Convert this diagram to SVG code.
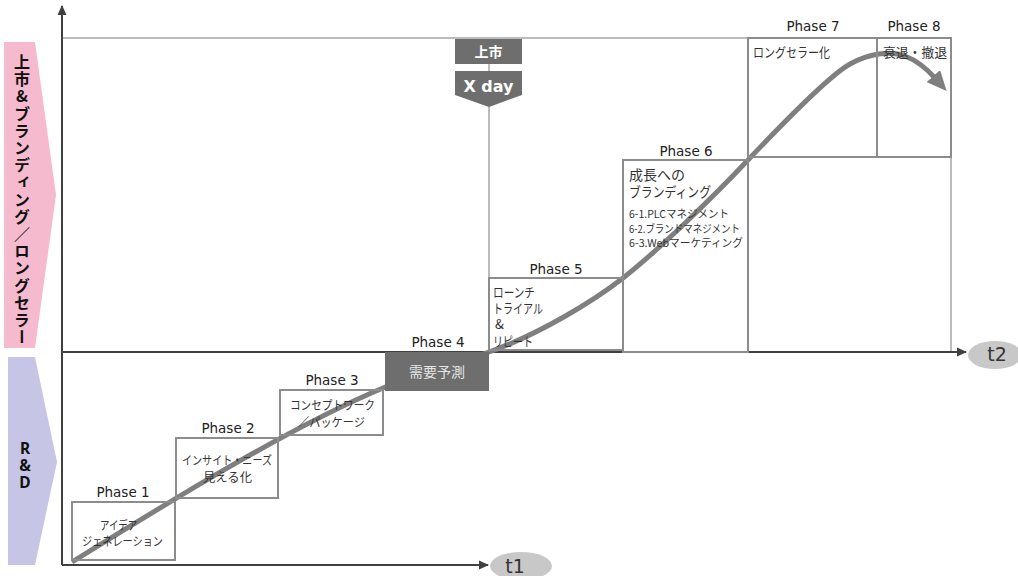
<svg xmlns="http://www.w3.org/2000/svg" width="1018" height="576" viewBox="0 0 1018 576">
<defs>
<style>
.box{fill:none;stroke:#8c8c8c;stroke-width:2}
.frame{fill:none;stroke:#a6a6a6;stroke-width:1.5}
.axis{fill:none;stroke:#404040;stroke-width:2}
.ph{font-family:"DejaVu Sans",sans-serif;font-size:13.5px;fill:#222;text-anchor:middle}
.jp{font-family:"Noto Sans CJK JP",sans-serif;font-size:12px;fill:#333}
.jp11{font-family:"Noto Sans CJK JP",sans-serif;font-size:11px;fill:#333}
.jp13{font-family:"Noto Sans CJK JP",sans-serif;font-size:13px;fill:#333}
.jp14{font-family:"Noto Sans CJK JP",sans-serif;font-size:14px;fill:#333}
.t{font-family:"DejaVu Sans",sans-serif;font-size:19px;fill:#333;text-anchor:middle}
.rd{font-family:"Noto Sans",sans-serif;font-size:15.5px;font-weight:bold;fill:#111;text-anchor:middle}
</style>
<marker id="ah" viewBox="0 0 10 10" refX="9" refY="5" markerWidth="10" markerHeight="10" markerUnits="userSpaceOnUse" orient="auto"><path d="M0,0.5 L10,5 L0,9.5 z" fill="#404040"/></marker>
<marker id="bigah" viewBox="0 0 20 18" refX="4" refY="9" markerWidth="20" markerHeight="18" markerUnits="userSpaceOnUse" orient="auto"><path d="M0,0 L20,9 L0,18 z" fill="#7f7f7f"/></marker>
</defs>
<rect width="1018" height="576" fill="#ffffff"/>

<g id="band-launch">
<path d="M4,42 L35,42 L56,195 L35,348 L4,348 z" fill="#f5bace"/>
<text x="22" y="54" font-family="'Noto Sans CJK JP',sans-serif" font-size="16" font-weight="bold" fill="#111" style="writing-mode:vertical-rl;text-orientation:upright" letter-spacing="1.2">上市&amp;ブランディング／ロングセラー</text>
</g>
<g id="band-rd">
<path d="M8,357 L35,357 L57,462 L35,565 L8,565 z" fill="#c6c5e6"/>
<text class="rd" x="25" y="454">R</text>
<text class="rd" x="25" y="471">&amp;</text>
<text class="rd" x="25" y="488">D</text>
</g>

<g id="frame">
<path class="frame" d="M62,38 L951,38 L951,352"/>
<line x1="489" y1="64" x2="489" y2="352" stroke="#a6a6a6" stroke-width="1.5"/>
</g>

<g id="connectors">
<line class="axis" x1="62" y1="565" x2="62" y2="6" marker-end="url(#ah)"/>
<line class="axis" x1="62" y1="352" x2="966" y2="352" marker-end="url(#ah)"/>
<line class="axis" x1="62" y1="565" x2="488" y2="565" marker-end="url(#ah)"/>
<path d="M72,562 C172,500 290,427 383,388 C418,373 455,364 489,352 C540,334 595,300 623,278 C660,249 715,195 748,160 C785,121 830,75 850,64 C868,54 890,50 905,56 C918,61 928,70 936,79" fill="none" stroke="#7f7f7f" stroke-width="5" marker-end="url(#bigah)"/>
</g>

<g id="phase1">
<rect class="box" x="72" y="502" width="103" height="58"/>
<text class="ph" x="123" y="497">Phase 1</text>
<text class="jp" x="100" y="529.5" textLength="37" lengthAdjust="spacingAndGlyphs">アイデア</text>
<text class="jp" x="82" y="545.5" textLength="81" lengthAdjust="spacingAndGlyphs">ジェネレーション</text>
</g>
<g id="phase2">
<rect class="box" x="176" y="438" width="102" height="60"/>
<text class="ph" x="228" y="433">Phase 2</text>
<text class="jp" x="182" y="464.5" textLength="90" lengthAdjust="spacingAndGlyphs">インサイト・ニーズ</text>
<text class="jp" x="203" y="481.5" textLength="49" lengthAdjust="spacingAndGlyphs">見える化</text>
</g>
<g id="phase3">
<rect class="box" x="280" y="390" width="103" height="45"/>
<text class="ph" x="332" y="385">Phase 3</text>
<text class="jp" x="290" y="409.5" textLength="85" lengthAdjust="spacingAndGlyphs">コンセプトワーク</text>
<text class="jp" x="298" y="426.5" textLength="67" lengthAdjust="spacingAndGlyphs">／パッケージ</text>
</g>
<g id="phase4">
<rect x="385" y="352" width="104" height="39" fill="#6e6e6e"/>
<text class="ph" x="438" y="347">Phase 4</text>
<text x="409" y="377" font-family="'Noto Sans CJK JP',sans-serif" font-size="14" fill="#e6e6e6" textLength="56" lengthAdjust="spacingAndGlyphs">需要予測</text>
</g>
<g id="phase5">
<rect class="box" x="489" y="278" width="134" height="72"/>
<text class="ph" x="556" y="274">Phase 5</text>
<text class="jp13" x="493" y="297" textLength="42" lengthAdjust="spacingAndGlyphs">ローンチ</text>
<text class="jp13" x="493" y="313" textLength="50" lengthAdjust="spacingAndGlyphs">トライアル</text>
<text class="jp13" x="495" y="329">&amp;</text>
<text class="jp13" x="493" y="346" textLength="40" lengthAdjust="spacingAndGlyphs">リピート</text>
</g>
<g id="phase6">
<rect class="box" x="623" y="160" width="125" height="192"/>
<text class="ph" x="686" y="156">Phase 6</text>
<text class="jp14" x="629" y="180" textLength="56" lengthAdjust="spacingAndGlyphs">成長への</text>
<text class="jp14" x="629" y="197" textLength="82" lengthAdjust="spacingAndGlyphs">ブランディング</text>
<text class="jp11" x="629" y="218" textLength="100" lengthAdjust="spacingAndGlyphs">6-1.PLCマネジメント</text>
<text class="jp11" x="629" y="233" textLength="111" lengthAdjust="spacingAndGlyphs">6-2.ブランドマネジメント</text>
<text class="jp11" x="629" y="247" textLength="114" lengthAdjust="spacingAndGlyphs">6-3.Webマーケティング</text>
</g>
<g id="phase7">
<rect class="box" x="748" y="38" width="129" height="119"/>
<text class="ph" x="813" y="31">Phase 7</text>
<text class="jp13" x="753" y="57" textLength="77" lengthAdjust="spacingAndGlyphs">ロングセラー化</text>
</g>
<g id="phase8">
<rect class="box" x="877" y="38" width="74" height="119"/>
<text class="ph" x="914" y="31">Phase 8</text>
<text class="jp13" x="883" y="57" textLength="64" lengthAdjust="spacingAndGlyphs">衰退・撤退</text>
</g>

<g id="xday">
<rect x="455" y="39" width="67" height="25" fill="#6e6e6e"/>
<text x="488.5" y="57" font-family="'Noto Sans CJK JP',sans-serif" font-size="14" font-weight="bold" fill="#fff" text-anchor="middle">上市</text>
<path d="M455,71 L522,71 L522,95 L489,107 L455,95 z" fill="#6e6e6e"/>
<text x="488.5" y="92" font-family="'DejaVu Sans',sans-serif" font-size="16" font-weight="bold" fill="#fff" text-anchor="middle">X day</text>
</g>

<g id="t2">
<ellipse cx="995" cy="355" rx="27" ry="14" fill="#c8c8c8"/>
<text class="t" x="997" y="361">t2</text>
</g>
<g id="t1">
<ellipse cx="521" cy="566" rx="31" ry="14" fill="#c8c8c8"/>
<text class="t" x="515" y="573">t1</text>
</g>
</svg>
